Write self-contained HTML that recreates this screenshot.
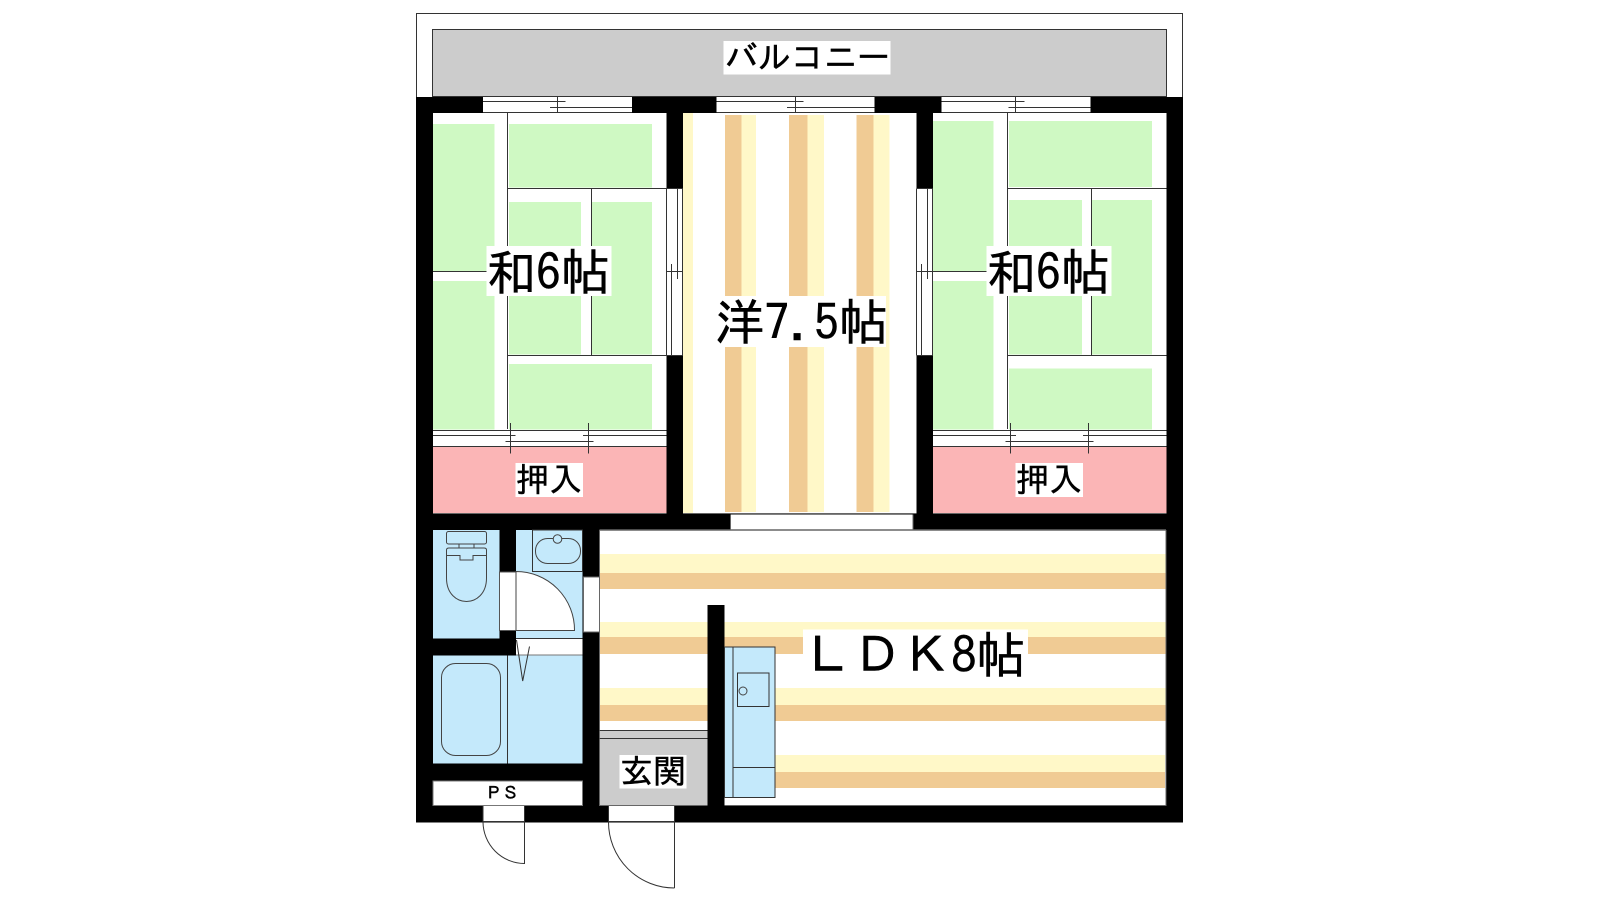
<!DOCTYPE html>
<html lang="ja"><head><meta charset="utf-8"><title>間取り図</title>
<style>
html,body{margin:0;padding:0;background:#fff;width:1600px;height:900px;overflow:hidden}
svg{display:block}
text{font-family:"IPAGothic","Liberation Sans","Noto Sans CJK JP",sans-serif;fill:#000;stroke:#000;stroke-width:.5}
.l{stroke:#333;stroke-width:1;fill:none}
.e{stroke:#666;stroke-width:1;fill:none}
.g{fill:#cff9c3}.c{fill:#fff8c8}.o{fill:#f0cb94}.b{fill:#c4e9fb}.p{fill:#fbb5b6}.w{fill:#fff}.y{fill:#ccc}
</style></head><body>
<svg xmlns="http://www.w3.org/2000/svg" width="1600" height="900" viewBox="0 0 1600 900">
<rect width="1600" height="900" fill="#fff"/>
<!-- balcony -->
<rect x="416.5" y="13.5" width="766" height="84" fill="#fff" stroke="#333"/>
<rect x="432.5" y="29.5" width="734" height="67" fill="#ccc" stroke="#333"/>
<!-- walls -->
<rect x="416" y="97" width="767" height="725.5" fill="#000"/>
<!-- windows -->
<g>
<rect class="w" x="483" y="97" width="149" height="15.5"/>
<rect class="w" x="716.5" y="97" width="158" height="15.5"/>
<rect class="w" x="941.5" y="97" width="149" height="15.5"/>
<path class="l" d="M483 101.5H565.5M550 107.5H632M557.5 97V112.5M483 112.5H632
M716.5 101.5H803.5M787 107.5H874.5M795.5 97V112.5M716.5 112.5H874.5
M941.5 101.5H1024.5M1008.5 107.5H1090.5M1015.5 97V112.5M941.5 112.5H1090.5"/>
</g>
<!-- room 1 -->
<rect class="w" x="433" y="113" width="233.5" height="317"/>
<rect class="g" x="433" y="124" width="61.5" height="147.5"/>
<rect class="g" x="433" y="281" width="61.5" height="148.5"/>
<rect class="g" x="509" y="124" width="143" height="63.5"/>
<rect class="g" x="509" y="202" width="72" height="152.5"/>
<rect class="g" x="592" y="202" width="60" height="152.5"/>
<rect class="g" x="509" y="364" width="143" height="65.5"/>
<path class="l" d="M507.5 113V429M507.5 188.5H666.5M591.5 188.5V355M507.5 355.5H666.5M433 271.5H507.5"/>
<!-- room 3 -->
<rect class="w" x="933" y="113" width="233.5" height="317"/>
<rect class="g" x="933" y="121" width="60.5" height="150.5"/>
<rect class="g" x="933" y="281" width="60.5" height="148.5"/>
<rect class="g" x="1009" y="121" width="143" height="66"/>
<rect class="g" x="1009" y="200" width="73" height="154.5"/>
<rect class="g" x="1092" y="200" width="60" height="154.5"/>
<rect class="g" x="1009" y="368.5" width="143" height="61"/>
<path class="l" d="M1007.5 113V429M1007.5 188.5H1166.5M1091.5 188.5V355M1007.5 355.5H1166.5M933 271.5H1007.5"/>
<!-- closets -->
<rect class="w" x="433" y="430" width="233.5" height="17"/>
<rect class="w" x="933" y="430" width="233.5" height="17"/>
<rect class="p" x="433" y="447" width="233.5" height="66.5"/>
<rect class="p" x="933" y="447" width="233.5" height="66.5"/>
<path class="l" d="M433 430.5H666.5M433 446.5H666.5M433 435.5H515.5M505.5 441.5H593.5M583 435.5H666.5M510.5 423V453.5M588.5 423V453.5
M933 430.5H1166.5M933 446.5H1166.5M933 435.5H1016M1005.5 441.5H1093.5M1083 435.5H1166.5M1010.5 423V453.5M1088.5 423V453.5"/>
<path class="e" d="M433 513.5H666.5M933 513.5H1166.5"/>
<!-- room 2 -->
<rect class="w" x="683" y="113" width="233.5" height="400.5"/>
<rect class="c" x="683" y="113" width="10" height="400"/>
<g>
<rect class="o" x="725" y="115" width="16.5" height="397"/><rect class="c" x="741.5" y="115" width="14.5" height="397"/>
<rect class="o" x="789" y="115" width="18.5" height="397"/><rect class="c" x="807.5" y="115" width="16.5" height="397"/>
<rect class="o" x="856.5" y="115" width="17" height="397"/><rect class="c" x="873.5" y="115" width="16" height="397"/>
</g>
<path class="e" d="M683 513.5H916.5"/>
<!-- sliding doors between rooms -->
<rect class="w" x="666.5" y="188.5" width="16.5" height="167"/>
<rect class="w" x="916.5" y="188.5" width="16.5" height="167"/>
<path class="l" d="M666.5 188.5V355.5M682.5 188.5V355.5M666.5 188.5H682.5M666.5 355.5H682.5M677.5 188.5V279M671.5 264V355.5M666.5 271.5H682.5
M916.5 188.5V355.5M932.5 188.5V355.5M916.5 188.5H932.5M916.5 355.5H932.5M927.5 188.5V279M921.5 264V355.5M916.5 271.5H932.5"/>
<!-- LDK -->
<rect class="w" x="599.5" y="530" width="566.5" height="275.5"/>
<rect class="w" x="730.5" y="514.5" width="183" height="15.5"/>
<rect class="c" x="600" y="554" width="566" height="19"/><rect class="o" x="600" y="573" width="566" height="16"/>
<rect class="c" x="600" y="622" width="566" height="15"/><rect class="o" x="600" y="637" width="566" height="17"/>
<rect class="c" x="600" y="688" width="566" height="17"/><rect class="o" x="600" y="705" width="566" height="16"/>
<rect class="c" x="775" y="755" width="390" height="17"/><rect class="o" x="775" y="772" width="390" height="16"/>
<path d="M730.5 514.5V530M913 514.5V530" class="e"/>
<path d="M599.5 530H1166" stroke="#666" stroke-width="1.5" fill="none"/>
<path class="e" d="M599.5 530V805.5H1166V530"/>
<!-- entrance -->
<rect class="y" x="599.5" y="731" width="108.5" height="74.5"/>
<path class="e" d="M599.5 731V805.5H708"/>
<path class="l" d="M599.5 730.5H708M599.5 738.5H708"/>
<!-- inner wall -->
<rect x="707.5" y="605" width="17" height="217" fill="#000"/>
<!-- kitchen -->
<rect class="b" x="724.5" y="647" width="50.5" height="150.5" stroke="#333"/>
<path class="l" d="M733 647V797.5M733 767.5H775"/>
<rect x="737.5" y="673" width="31.5" height="33.5" fill="none" stroke="#333"/>
<circle cx="743" cy="691" r="4" fill="none" stroke="#444"/>
<!-- toilet -->
<rect class="b" x="433" y="530" width="66.5" height="108.5"/>
<rect x="446.5" y="531.5" width="40" height="12.5" rx="2" fill="none" stroke="#444"/>
<path d="M459 544V548H474V544" fill="none" stroke="#444"/>
<path d="M446.5 550Q446.5 548 449 548H484Q486.5 548 486.5 550V578C486.5 594 476 601.5 466.5 601.5C457 601.5 446.5 594 446.5 578ZM446.5 555.5H460V560H473V555.5H486.5" fill="none" stroke="#444"/>
<!-- wash -->
<rect class="w" x="499.5" y="572" width="17" height="58.5" stroke="#555"/>
<rect class="b" x="516" y="530" width="66.5" height="108.5"/>
<rect x="532.5" y="530" width="50" height="41.5" fill="none" stroke="#333"/>
<rect x="535.5" y="538.5" width="45" height="25" rx="12" fill="none" stroke="#444"/>
<circle cx="557.5" cy="539" r="4.3" fill="#c4e9fb" stroke="#444"/>
<path d="M516 571.5A58.5 58.5 0 0 1 574.5 630.5H516Z" fill="#fff" stroke="#444"/>
<rect class="w" x="516" y="638.5" width="66.5" height="16.5"/>
<path class="l" d="M516 638.5H582.5"/>
<rect class="w" x="583.5" y="577" width="16" height="55" stroke="#666"/>
<!-- bath -->
<rect class="b" x="433" y="655.5" width="149.5" height="108"/>
<path d="M516 655H582.5" stroke="#777" fill="none"/>
<path class="l" d="M507.5 655.5V763.5"/>
<rect x="441.5" y="663.5" width="59" height="92" rx="14" fill="none" stroke="#444"/>
<path class="l" d="M516.5 640L522.7 681L529.5 646.5"/>
<!-- PS -->
<rect class="w" x="433" y="781" width="149.5" height="24.5" stroke="#777"/>
<!-- bottom doors -->
<rect class="w" x="483" y="806" width="41.5" height="16"/>
<rect class="w" x="608.5" y="806" width="66" height="16"/>
<path class="l" d="M483 821.5H524.5M524.5 806V864M483 806V822A41.5 42 0 0 0 524.5 863.5"/>
<path class="l" d="M608.5 821.5H674.5M674.5 806V888M608.5 806V822A66 66 0 0 0 674.5 888"/>
<!-- label boxes -->
<rect class="w" x="723.5" y="41" width="167" height="33.5"/>
<rect class="w" x="486.5" y="246" width="125" height="50"/>
<rect class="w" x="986.5" y="246" width="125" height="50"/>
<rect class="w" x="700" y="296" width="186" height="51"/>
<rect class="w" x="515.5" y="463" width="67.5" height="34"/>
<rect class="w" x="1015.5" y="463" width="67.5" height="34"/>
<rect class="w" x="803" y="629.5" width="225" height="51"/>
<rect class="w" x="619.5" y="755" width="67" height="33.5"/>
<!-- labels -->
<text x="725" y="69" font-size="33">バルコニー</text>
<text x="486.5" y="290" font-size="49.5">和6帖</text>
<text x="986.5" y="290" font-size="49.5">和6帖</text>
<text x="715" y="340" font-size="49.5">洋7.5帖</text>
<text x="516" y="491.5" font-size="33">押入</text>
<text x="1016" y="491.5" font-size="33">押入</text>
<text x="803" y="673" font-size="49.5">ＬＤＫ8帖</text>
<text x="620" y="783" font-size="33">玄関</text>
<text x="485" y="799" font-size="17">ＰＳ</text>
</svg>
</body></html>
